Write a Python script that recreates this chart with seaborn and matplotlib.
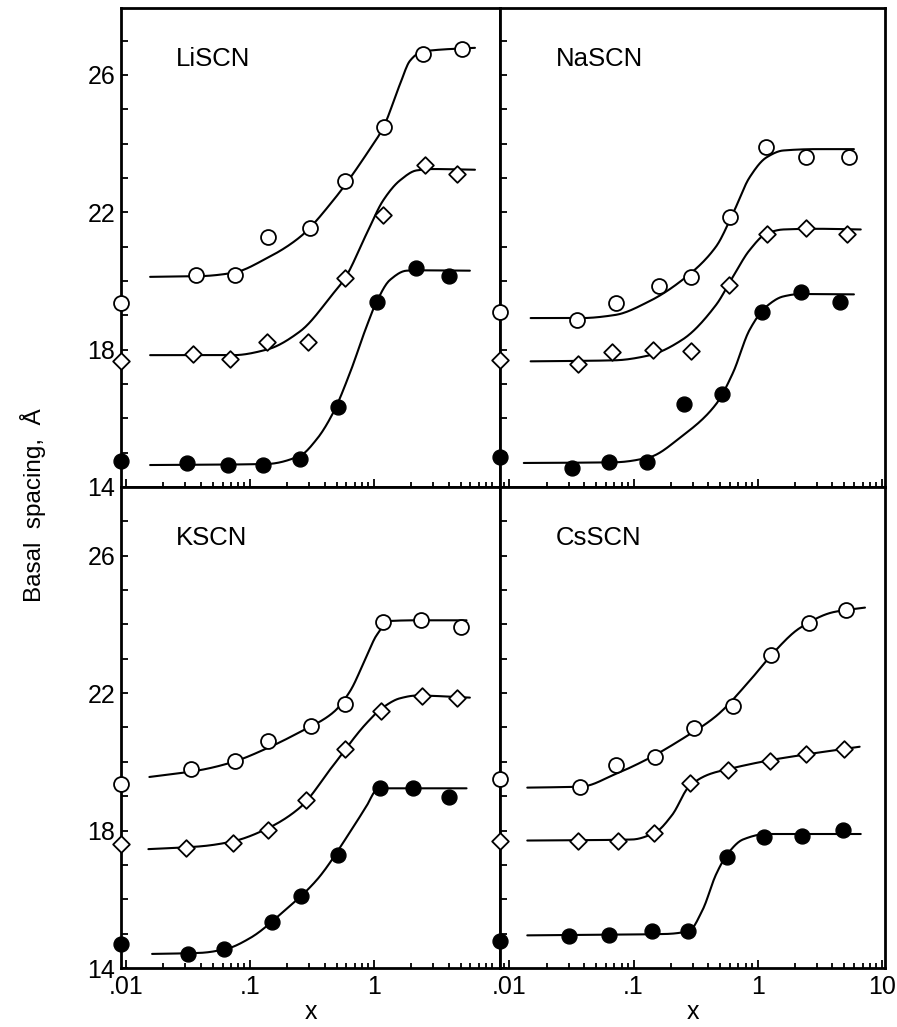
import numpy as np
import pandas as pd
import matplotlib
matplotlib.use('Agg')
import matplotlib.pyplot as plt
import seaborn as sns
from matplotlib.ticker import FixedLocator, FixedFormatter, LogLocator, MultipleLocator

# ---- data ----
# measured points (x = mole ratio); "edge" = value plotted on the y axis (x = 0)
li_open_x = [0.037, 0.075, 0.139, 0.305, 0.583, 1.205, 2.47, 5.09]
li_open_y = [20.17, 20.17, 21.27, 21.53, 22.91, 24.49, 26.62, 26.76]
li_dia_x = [0.0349, 0.069, 0.136, 0.295, 0.583, 1.19, 2.58, 4.64]
li_dia_y = [17.88, 17.73, 18.21, 18.21, 20.08, 21.91, 23.38, 23.12]
li_fill_x = [0.0308, 0.066, 0.128, 0.253, 0.515, 1.05, 2.18, 4.05]
li_fill_y = [14.71, 14.64, 14.64, 14.83, 16.34, 19.40, 20.37, 20.14]
li_edge = [19.37, 17.68, 14.76]

na_open_x = [0.0348, 0.0718, 0.159, 0.292, 0.60, 1.17, 2.47, 5.46]
na_open_y = [18.87, 19.37, 19.84, 20.12, 21.86, 23.91, 23.60, 23.60]
na_dia_x = [0.0355, 0.0675, 0.1425, 0.292, 0.589, 1.18, 2.44, 5.22]
na_dia_y = [17.57, 17.92, 18.00, 17.95, 19.88, 21.36, 21.55, 21.38]
na_fill_x = [0.0319, 0.063, 0.128, 0.254, 0.513, 1.08, 2.22, 4.61]
na_fill_y = [14.54, 14.72, 14.74, 16.41, 16.70, 19.11, 19.69, 19.40]
na_edge = [19.11, 17.71, 14.86]

k_open_x = [0.0333, 0.0756, 0.139, 0.308, 0.583, 1.19, 2.38, 5.03]
k_open_y = [19.78, 20.02, 20.62, 21.03, 21.69, 24.07, 24.12, 23.92]
k_dia_x = [0.0305, 0.0725, 0.1405, 0.281, 0.583, 1.15, 2.43, 4.64]
k_dia_y = [17.49, 17.64, 18.02, 18.89, 20.38, 21.49, 21.93, 21.87]
k_fill_x = [0.0318, 0.0617, 0.151, 0.258, 0.515, 1.12, 2.08, 4.05]
k_fill_y = [14.41, 14.56, 15.33, 16.10, 17.28, 19.25, 19.25, 18.99]
k_edge = [19.35, 17.61, 14.69]

cs_open_x = [0.0373, 0.0727, 0.149, 0.309, 0.634, 1.28, 2.60, 5.13]
cs_open_y = [19.28, 19.92, 20.15, 20.99, 21.62, 23.11, 24.05, 24.41]
cs_dia_x = [0.0355, 0.075, 0.147, 0.287, 0.578, 1.26, 2.47, 4.91]
cs_dia_y = [17.71, 17.71, 17.92, 19.38, 19.76, 20.03, 20.22, 20.38]
cs_fill_x = [0.030, 0.0634, 0.140, 0.273, 0.570, 1.13, 2.28, 4.82]
cs_fill_y = [14.92, 14.95, 15.08, 15.08, 17.23, 17.80, 17.85, 18.02]
cs_edge = [19.49, 17.71, 14.79]

# fitted curves: knots (log10 x, y)
li_open_c = [(-1.806, 20.12), (-1.403, 20.14), (-1.134, 20.24), (-0.866, 20.66), (-0.597, 21.28),
             (-0.328, 22.35), (-0.059, 23.70), (0.075, 24.47), (0.21, 25.73), (0.29, 26.41),
             (0.371, 26.65), (0.478, 26.72), (0.815, 26.79)]
li_dia_c = [(-1.806, 17.84), (-1.134, 17.84), (-0.866, 18.0), (-0.597, 18.53), (-0.328, 19.64),
            (-0.234, 20.08), (-0.059, 21.38), (0.075, 22.35), (0.21, 22.93), (0.344, 23.22),
            (0.478, 23.26), (0.815, 23.24)]
li_fill_c = [(-1.806, 14.64), (-0.866, 14.67), (-0.597, 14.91), (-0.462, 15.39), (-0.328, 16.17),
             (-0.194, 17.32), (-0.059, 18.68), (0.022, 19.40), (0.129, 20.03), (0.264, 20.30),
             (0.371, 20.31), (0.774, 20.30)]
na_open_c = [(-1.829, 18.92), (-1.42, 18.92), (-1.149, 19.01), (-0.878, 19.4), (-0.607, 20.03),
             (-0.336, 21.0), (-0.2, 21.96), (-0.065, 23.02), (0.071, 23.6), (0.206, 23.8),
             (0.477, 23.84), (0.775, 23.84)]
na_dia_c = [(-1.829, 17.66), (-1.149, 17.69), (-0.878, 17.83), (-0.607, 18.29), (-0.336, 19.30),
            (-0.2, 20.12), (-0.065, 20.9), (0.071, 21.38), (0.206, 21.5), (0.477, 21.52), (0.83, 21.5)]
na_fill_c = [(-1.884, 14.70), (-1.149, 14.72), (-0.878, 14.86), (-0.607, 15.49), (-0.336, 16.41),
             (-0.2, 17.32), (-0.065, 18.58), (0.071, 19.26), (0.206, 19.55), (0.342, 19.62), (0.775, 19.61)]
k_open_c = [(-1.812, 19.56), (-1.403, 19.76), (-1.134, 20.0), (-0.866, 20.39), (-0.597, 20.87),
            (-0.328, 21.44), (-0.194, 22.05), (-0.059, 23.08), (0.022, 23.69), (0.129, 24.1),
            (0.344, 24.12), (0.747, 24.12)]
k_dia_c = [(-1.82, 17.46), (-1.403, 17.54), (-1.134, 17.69), (-0.866, 18.05), (-0.597, 18.67),
           (-0.328, 19.9), (-0.059, 21.13), (0.075, 21.59), (0.21, 21.85), (0.344, 21.93), (0.774, 21.87)]
k_fill_c = [(-1.79, 14.41), (-1.403, 14.44), (-1.188, 14.56), (-1.0, 14.87), (-0.731, 15.64),
            (-0.462, 16.56), (-0.194, 17.95), (-0.059, 18.72), (0.022, 19.18), (0.102, 19.23), (0.747, 19.23)]
cs_open_c = [(-1.856, 19.25), (-1.42, 19.28), (-1.149, 19.64), (-0.878, 20.1), (-0.607, 20.67),
             (-0.336, 21.33), (-0.065, 22.36), (0.11, 23.11), (0.341, 23.9), (0.612, 24.36), (0.864, 24.49)]
cs_dia_c = [(-1.856, 17.71), (-1.013, 17.74), (-0.824, 17.95), (-0.688, 18.46), (-0.553, 19.28),
            (-0.39, 19.64), (-0.236, 19.79), (0.103, 20.05), (0.396, 20.22), (0.821, 20.44)]
cs_fill_c = [(-1.856, 14.95), (-1.149, 14.97), (-0.742, 14.99), (-0.553, 15.08), (-0.444, 15.69),
             (-0.336, 16.72), (-0.241, 17.33), (-0.119, 17.74), (0.071, 17.9), (0.83, 17.9)]

salts = ['LiSCN', 'NaSCN', 'KSCN', 'CsSCN']
x_ticks = [0.01, 0.1, 1, 10]
x_ticklabels = ['.01', '.1', '1', '10']
y_ticks = [14, 18, 22, 26]


def pchip(xk, yk, xn):
    # monotone cubic through the knots, only used to draw the line smoothly
    xk = np.asarray(xk, float)
    yk = np.asarray(yk, float)
    h = np.diff(xk)
    d = np.diff(yk) / h
    m = np.zeros_like(yk)
    m[0], m[-1] = d[0], d[-1]
    for i in range(1, len(xk) - 1):
        if d[i - 1] * d[i] <= 0:
            m[i] = 0
        else:
            w1 = 2 * h[i] + h[i - 1]
            w2 = h[i] + 2 * h[i - 1]
            m[i] = (w1 + w2) / (w1 / d[i - 1] + w2 / d[i])
    idx = np.clip(np.searchsorted(xk, xn) - 1, 0, len(xk) - 2)
    t = (xn - xk[idx]) / h[idx]
    h00 = 2 * t**3 - 3 * t**2 + 1
    h10 = t**3 - 2 * t**2 + t
    h01 = -2 * t**3 + 3 * t**2
    h11 = t**3 - t**2
    return h00 * yk[idx] + h10 * h[idx] * m[idx] + h01 * yk[idx + 1] + h11 * h[idx] * m[idx + 1]


panels = [
    (li_open_x, li_open_y, li_dia_x, li_dia_y, li_fill_x, li_fill_y, li_edge, li_open_c, li_dia_c, li_fill_c),
    (na_open_x, na_open_y, na_dia_x, na_dia_y, na_fill_x, na_fill_y, na_edge, na_open_c, na_dia_c, na_fill_c),
    (k_open_x, k_open_y, k_dia_x, k_dia_y, k_fill_x, k_fill_y, k_edge, k_open_c, k_dia_c, k_fill_c),
    (cs_open_x, cs_open_y, cs_dia_x, cs_dia_y, cs_fill_x, cs_fill_y, cs_edge, cs_open_c, cs_dia_c, cs_fill_c),
]

sns.set_style('ticks')
plt.rcParams['font.family'] = ['Liberation Sans', 'DejaVu Sans']
plt.rcParams['text.color'] = 'black'
plt.rcParams['axes.labelcolor'] = 'black'
plt.rcParams['xtick.color'] = 'black'
plt.rcParams['ytick.color'] = 'black'

fig = plt.figure(figsize=(8.97, 10.27), dpi=100)
L, M, R = 121 / 897, 500 / 897, 885 / 897
T, C, B = 1 - 8 / 1027, 1 - 487 / 1027, 1 - 968 / 1027
boxes = [[L, C, M - L, T - C], [M, C, R - M, T - C], [L, B, M - L, C - B], [M, B, R - M, C - B]]
xlims = [(0.0091, 10.4), (0.0084, 10.6), (0.0091, 10.4), (0.0084, 10.6)]
ylims = [(14, 27.95), (14, 27.95), (14, 28.0), (14, 28.0)]

for i, (name, p) in enumerate(zip(salts, panels)):
    ox, oy, dx, dy, fx, fy, edge, oc, dc, fc = p
    ax = fig.add_axes(boxes[i])
    ax.set_xscale('log')
    ax.set_xlim(*xlims[i])
    ax.set_ylim(*ylims[i])
    x0 = xlims[i][0]

    for knots in (oc, dc, fc):
        kx, ky = zip(*knots)
        xn = np.linspace(kx[0], kx[-1], 300)
        sns.lineplot(x=10**xn, y=pchip(kx, ky, xn), ax=ax, color='black', lw=1.5,
                     sort=False, estimator=None, zorder=2)

    sns.scatterplot(x=ox + [x0], y=oy + [edge[0]], ax=ax, marker='o', s=115, color='white',
                    edgecolor='black', linewidth=1.3, clip_on=False, zorder=3)
    sns.scatterplot(x=dx + [x0], y=dy + [edge[1]], ax=ax, marker='D', s=72, color='white',
                    edgecolor='black', linewidth=1.3, clip_on=False, zorder=3)
    sns.scatterplot(x=fx + [x0], y=fy + [edge[2]], ax=ax, marker='o', s=115, color='black',
                    edgecolor='black', linewidth=1.0, clip_on=False, zorder=3)

    nt = 4 if i % 2 == 1 else 3
    ax.xaxis.set_major_locator(FixedLocator(x_ticks[:nt]))
    ax.xaxis.set_major_formatter(FixedFormatter(x_ticklabels[:nt]))
    ax.xaxis.set_minor_locator(LogLocator(base=10, subs=range(2, 10), numticks=20))
    ax.xaxis.set_minor_formatter(FixedFormatter([]))
    ax.yaxis.set_major_locator(FixedLocator(y_ticks))
    ax.yaxis.set_minor_locator(MultipleLocator(1))

    ax.tick_params(axis='both', which='both', direction='in', top=False, right=False,
                   labelsize=18, color='black', labelcolor='black', width=1.3)
    ax.tick_params(axis='x', which='major', length=6, pad=5)
    ax.tick_params(axis='x', which='minor', length=3.8)
    ax.tick_params(axis='y', which='both', length=5, pad=4)
    if i < 2:
        ax.tick_params(axis='x', labelbottom=False)
    else:
        ax.set_xlabel('x', fontsize=18, labelpad=1, color='black')
    if i % 2 == 1:
        ax.tick_params(axis='y', labelleft=False)
    ax.set_ylabel('')

    for s in ax.spines.values():
        s.set_linewidth(2.0)
        s.set_color('black')

    ax.text(0.145, 0.893, name, transform=ax.transAxes, fontsize=18.5, va='center', ha='left',
            color='black')

fig.text(33 / 897, 1 - 505 / 1027, 'Basal  spacing,  Å', rotation=90, va='center', ha='center',
         fontsize=17.5, color='black')

fig.savefig('out.png', dpi=100, facecolor='white')
